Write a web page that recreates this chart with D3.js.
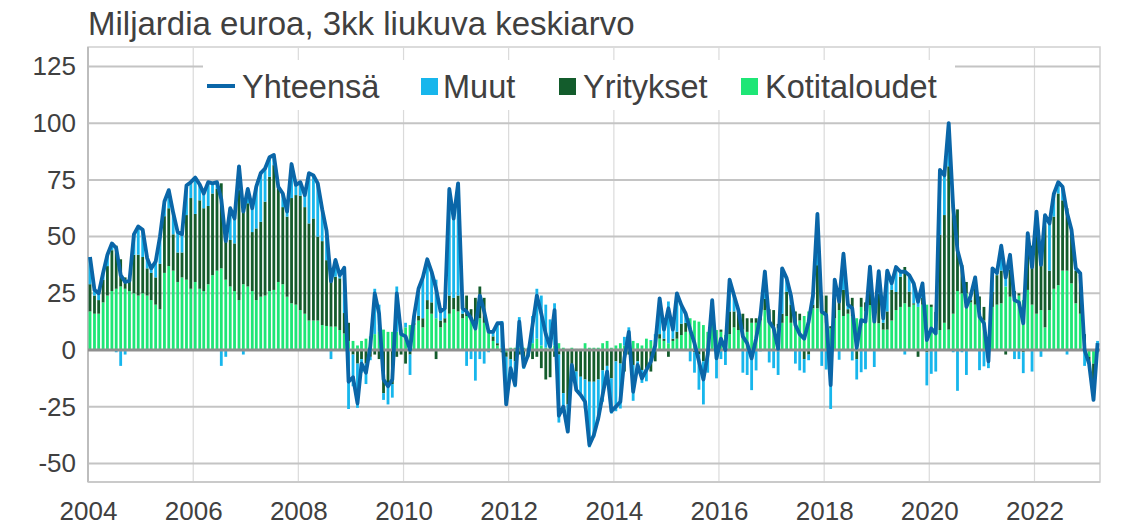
<!DOCTYPE html>
<html><head><meta charset="utf-8">
<script src="https://cdn.jsdelivr.net/npm/d3@7"></script>
<style>html,body{margin:0;padding:0;background:#fff;}svg{display:block;font-family:"Liberation Sans",Arial,sans-serif;}</style>
</head><body><svg id="chart" width="1145" height="528"></svg>
<script>
// Monthly data, 2004-01 .. 2023-03 (billion euro, 3-month moving average)
const startDate = [2004, 0];
const titleText = "Miljardia euroa, 3kk liukuva keskiarvo";
const seriesKeys = ["Kotitaloudet", "Yritykset", "Muut"];
const legendLabels = ["Yhteensä", "Muut", "Yritykset", "Kotitaloudet"];
const yTickValues = [-50, -25, 0, 25, 50, 75, 100, 125];
const xTickYears = [2004, 2006, 2008, 2010, 2012, 2014, 2016, 2018, 2020, 2022];

const kotitaloudet = [
17,16,16,21,24,26,27,28,27,26,
25,24,25,24,22,20,18,34,37,35,
30,32,31,27,30,27,26,29,33,35,
36,31,28,26,22,29,28,26,22,23.5,
24,26,26.5,30,29,23.5,20.6,20,17.6,16,
13,13,13,11,10.6,10.3,10.3,8.8,7.3,4,
4,2,4,5,6,7,8,9,8,8,
8,9,10,11,11,13,10,18,16,14,
10,12,16,18,17,14,15,13,12,14,
12,8,4,2,1,-1,1,1,1,1,
1,3,5,2,1,1,2,3,1,0,
1,0.5,0.5,3,1,1,1,3,4,1,
2,3,2,3,4,3,2,5,4,3,
5,4,3,4,5,6.6,8,14,13,12.5,
11,8,12,8.8,8,6.6,7,10,8.8,9,
8,12,12,13,17.6,12.5,10,9.5,12,15,
12,12,13,15,17,18.4,18.4,16,12,9.5,
14,17.6,15,16,15,14,19,17,19.8,12,
11.8,9,9,13,17.6,19,20.6,19,20,19,
20,20,19,8.8,8.8,12,9,16,26,25,
25,21,20,17.6,13,3,19,20,20.6,28,
23.5,24,24,22,26.5,20,16,17.6,10,17.6,
27,28.6,35,35,29.4,20.6,16,3,-3,-6,
-1];

const yritykset = [
12,8,6,10,13,18,19,12,5,4,
17,18,16,12,12,12,20,25,25.5,16,
13,11,28.5,40,30,39,36.5,34.5,36,36,
37.5,20,20.5,21,48.5,34,36.7,26,31.6,33,
41.4,50.4,55,42,34,35.3,46.4,48.3,50.4,47,
42.8,45,37,37,29,24,22,22.8,9,8,
-2,-6,-4,-6,-3,-2,-4,-19,-16,-15,
-3,-2,-6,-2,1,2,4,4,5,-4,
3,2,8,5,7,2,9,5,11,14,
11,1,2,1,-1,-2,-4,-5,-2,-3,
-3,-4,-3,-8,-13,-12,-3,-2,-19,-24,
-7,-9.5,-11.8,-13,-14,-14,-13,-9,-7,-12.5,
-5,-6,-9.5,-2,-6.6,-5,-8.8,-8,-9.5,-5,
2,1,-3,1,3,5,4,0,-1,-2,
-5,-2,9,-2,1,0,10,7,8,7,
6,2,2,3,5,5.5,7.6,2,4,10.7,
8,5,3,-4,-2,1.6,19,8,12,1,
9,8,11.5,2,8,-4,4,4,17,8,
13,3,8,13.5,8,13.3,16,6.7,0.6,-3,
3,-1,1,8,42,47.5,72,48,36,12.5,
5,1,12.3,6,6,0,6.7,13,14.4,-2,
12,2,1,-1,19,26,35,23,45,17.4,
31.8,40.4,31,27.5,24,14.4,15,4,-3,-10,
0];

const muut = [
12,2.5,3,3,5,3,-1,-7,-2,0.5,
9,12.5,12,4.5,2,7,12,6.5,8,9.5,
9,8,13,7,16,7,6.5,10.5,4.5,3,
-7,-3,14,11,10.5,-2,6.3,10.5,18.4,21.5,
14.6,8.6,4.5,0,6,2.2,15,4.5,6,5.3,
22.2,19,23.5,14,13,-4,7.4,1.4,20,-26,
-14,-19.5,-6,-9,-1.5,20,12,-3,-8,-6,
20,0,2,-9,3,12,18,18,13.5,17,
4,4.4,47,35,49.5,2.4,-7,-4,-13.5,-4,
-6,-1,2,8.8,11.8,-21,-5,-11.4,13.5,-5.3,
-0.2,12,22,22,19,12.5,18.6,-30,-7,-12,
-0.6,-8.6,-8.5,-12.8,-28.9,-24.5,-18,-13.8,-6.5,-15.5,
-22,-19.8,3.8,7,-15.8,-4.6,-5.7,-5.8,0.4,4,
15.8,4,18.4,4,17,8.2,4,-5,-9,-15.5,
-19,-8,1,-10.5,-4,-6.6,14,7,0.8,-10,
-11,-17.7,-9,-0.6,12,-5.5,-8,-11,20,6,
4,-6,-9,-6,-2.5,4,22.6,-7,-8.6,-26,
8,-4.3,16,2,-4.6,-9,-9.8,-8.5,0,-7.5,
10,2,18,2.9,11,2.2,-2,7.3,8.8,5.3,
6.4,-14.6,-10.5,-9.5,28.6,17.5,19,-1,-18,-1,
-11,2,-0.3,-8.9,-7.2,-8,10.3,1,11,6,
6.5,-4,-4,-9.2,6,-9.5,10,-3,4.5,20.8,
10,5,6,-2,-0.4,1,2.8,-7,0,-6,
4];

const yhteensa = [
41,26.5,25,34,42,47,45,33,30,30.5,
51,54.5,53,40.5,36,39,50,65.5,70.5,60.5,
52,51,72.5,74,76,73,69,74,73.5,74,
66.5,48,62.5,58,81,61,71,62.5,72,78,
80,85,86,72,69,61,82,72.8,74,68.3,
78,77,73.5,62,52.6,30.3,39.7,33,36.3,-14,
-12,-23.5,-6,-10,1.5,25,16,-13,-16,-13,
25,7,6,0,15,27,32,40,34.5,27,
17,18.4,71,58,73.5,18.4,17,14,9.5,24,
17,8,8,11.8,11.8,-24,-8,-15.4,12.5,-7.3,
-2.2,11,24,16,7,1.5,17.6,-29,-25,-36,
-6.6,-17.6,-19.8,-22.8,-41.9,-37.5,-30,-19.8,-9.5,-27,
-25,-22.8,-3.7,8,-18.4,-6.6,-12.5,-8.8,-5.1,2,
22.8,9,18.4,9,25,19.8,16,9,3,-5,
-13,-2,22,-3.7,5,0,31,24,17.6,6,
3,-3.7,5,15.4,34.6,12.5,9.6,0.5,36,31.7,
24,11,7,5,12.5,24,60,17,15.4,-15.5,
31,21.3,42.5,20,18.4,1,13.2,12.5,36.8,12.5,
34.8,14,35,29.4,36.6,34.5,34.6,33,29.4,21.3,
29.4,4.4,9.5,7.3,79.4,77,100,63,44,36.5,
19,24,32,14.7,11.8,-5,36,34,46,32,
42,22,21,11.8,51.5,36.5,61,37.6,59.5,55.8,
68.8,74,72,60.5,53,36,33.8,0,-6,-22,
3];

const colors = {
  "Kotitaloudet": "#1ee676",
  "Yritykset": "#135c2c",
  "Muut": "#17b6ec",
  "Yhteensä": "#0a66a8"
};

// Build table
const rows = yhteensa.map((t, i) => ({
  date: new Date(Date.UTC(startDate[0], startDate[1] + i, 15)),
  "Kotitaloudet": kotitaloudet[i],
  "Yritykset": yritykset[i],
  "Muut": muut[i],
  "Yhteensä": t
}));

const svg = d3.select("#chart");
const W = 1145, H = 528;
const m = {left: 88, right: 45, top: 47, bottom: 46};
const x0 = m.left, x1 = W - m.right, yTop = m.top, yBot = H - m.bottom;

const x = d3.scaleUtc()
  .domain([new Date(Date.UTC(2004, 0, 1)), new Date(Date.UTC(2004, 0 + rows.length, 1))])
  .range([x0, x1]);
const y = d3.scaleLinear().domain([-58.2, 133.6]).range([yBot, yTop]);

// frame
svg.append("rect").attr("x", x0).attr("y", yTop).attr("width", x1 - x0).attr("height", yBot - yTop)
  .attr("fill", "#fff").attr("stroke", "#cfcfcf").attr("stroke-width", 1.5);

// vertical gridlines
svg.append("g").selectAll("line")
  .data(xTickYears.filter(yr => yr > 2004))
  .join("line")
  .attr("x1", d => x(new Date(Date.UTC(d, 0, 1)))).attr("x2", d => x(new Date(Date.UTC(d, 0, 1))))
  .attr("y1", yTop).attr("y2", yBot)
  .attr("stroke", "#dadada").attr("stroke-width", 1.2);

// horizontal gridlines
svg.append("g").selectAll("line")
  .data(yTickValues.filter(v => v !== 0))
  .join("line")
  .attr("x1", x0).attr("x2", x1)
  .attr("y1", d => y(d)).attr("y2", d => y(d))
  .attr("stroke", "#c4c4c4").attr("stroke-width", 2);

// left & bottom border
svg.append("line").attr("x1", x0).attr("x2", x0).attr("y1", yTop).attr("y2", yBot)
  .attr("stroke", "#bdbdbd").attr("stroke-width", 2);
svg.append("line").attr("x1", x0).attr("x2", x1).attr("y1", yBot).attr("y2", yBot)
  .attr("stroke", "#c4c4c4").attr("stroke-width", 1.5);

// stacked bars
const stack = d3.stack().keys(seriesKeys).offset(d3.stackOffsetDiverging);
const stacked = stack(rows);
const barW = 2.8;
svg.append("g").selectAll("g")
  .data(stacked)
  .join("g")
  .attr("fill", d => colors[d.key])
  .selectAll("rect")
  .data(d => d)
  .join("rect")
  .attr("x", d => x(d.data.date) - barW / 2)
  .attr("width", barW)
  .attr("y", d => y(Math.max(d[0], d[1])))
  .attr("height", d => Math.abs(y(d[0]) - y(d[1])));

// zero line
svg.append("line").attr("x1", x0).attr("x2", x1).attr("y1", y(0)).attr("y2", y(0))
  .attr("stroke", "#8f8f8f").attr("stroke-width", 3);

// total line
const line = d3.line().x(d => x(d.date)).y(d => y(d["Yhteensä"])).curve(d3.curveLinear);
svg.append("path").datum(rows)
  .attr("d", line).attr("fill", "none")
  .attr("stroke", colors["Yhteensä"]).attr("stroke-width", 3.8)
  .attr("stroke-linejoin", "round");

// axes
const yAxis = d3.axisLeft(y).tickValues(yTickValues).tickSize(0).tickPadding(12)
  .tickFormat(d => String(d));
const gy = svg.append("g").attr("transform", `translate(${x0},0)`).call(yAxis);
gy.select(".domain").remove();
gy.selectAll("text").attr("font-size", 26).attr("fill", "#404040")
  .attr("font-family", "Liberation Sans, Arial, sans-serif");

const xAxis = d3.axisBottom(x)
  .tickValues(xTickYears.map(yr => new Date(Date.UTC(yr, 0, 1))))
  .tickFormat(d3.utcFormat("%Y")).tickSize(0).tickPadding(20);
const gx = svg.append("g").attr("transform", `translate(0,${yBot})`).call(xAxis);
gx.select(".domain").remove();
gx.selectAll("text").attr("font-size", 26).attr("fill", "#404040")
  .attr("font-family", "Liberation Sans, Arial, sans-serif");

// title
svg.append("text").attr("x", x0).attr("y", 35).text(titleText)
  .attr("font-size", 33).attr("fill", "#404040");

// legend
const lg = svg.append("g");
lg.append("rect").attr("x", 203).attr("y", 60).attr("width", 752).attr("height", 50).attr("fill", "#fff");
const legendItems = [
  {label: legendLabels[0], key: "Yhteensä", type: "line", mx: 207, tx: 242},
  {label: legendLabels[1], key: "Muut", type: "sq", mx: 421, tx: 443},
  {label: legendLabels[2], key: "Yritykset", type: "sq", mx: 559, tx: 583},
  {label: legendLabels[3], key: "Kotitaloudet", type: "sq", mx: 741, tx: 765}
];
const ly = 86;
legendItems.forEach(it => {
  if (it.type === "line") {
    lg.append("line").attr("x1", it.mx).attr("x2", it.mx + 28).attr("y1", ly).attr("y2", ly)
      .attr("stroke", colors[it.key]).attr("stroke-width", 4);
  } else {
    lg.append("rect").attr("x", it.mx).attr("y", ly - 8).attr("width", 17).attr("height", 17)
      .attr("fill", colors[it.key]);
  }
  lg.append("text").attr("x", it.tx).attr("y", ly).attr("dy", "0.36em")
    .attr("font-size", 32.5).attr("fill", "#404040").text(it.label);
});
</script>
</body></html>
